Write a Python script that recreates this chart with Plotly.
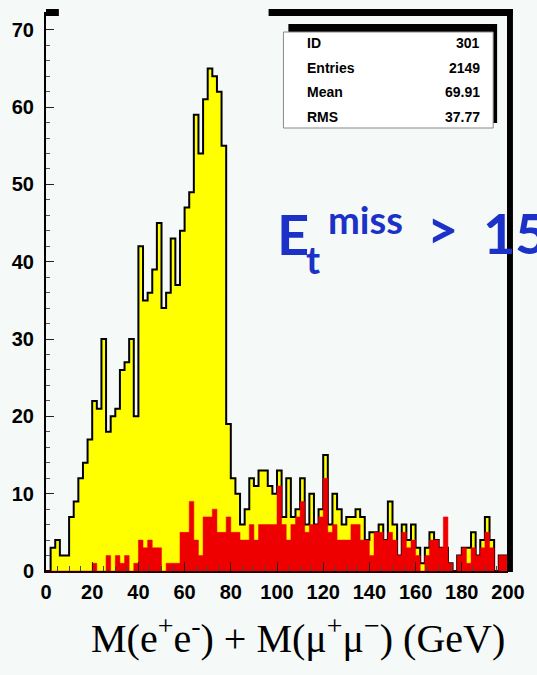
import plotly.graph_objects as go

# 2 GeV bins from 0 to 200 GeV
bin_edges = [2 * i for i in range(101)]

# Summed dilepton mass, all events (yellow histogram)
all_counts = [
    0, 3, 4, 2, 2, 7, 9, 12, 14, 17,
    22, 21, 30, 18, 20, 21, 26, 27, 30, 20,
    42, 35, 36, 39, 45, 34, 36, 43, 37, 44,
    47, 49, 59, 54, 61, 65, 64, 62, 55, 19,
    12, 10, 6, 8, 12, 11, 13, 13, 11, 10,
    13, 7, 12, 7, 8, 12, 6, 10, 6, 8,
    15, 6, 10, 8, 6, 7, 7, 8, 7, 4,
    5, 5, 6, 4, 9, 6, 2, 6, 4, 6,
    3, 1, 3, 5, 4, 3, 3, 1, 0, 2,
    3, 3, 5, 2, 4, 7, 4, 0, 2, 2,
]

# Events passing the missing-Et cut (red histogram)
cut_counts = [
    0, 0, 0, 0, 0, 0, 0, 0, 0, 0,
    1, 0, 0, 2, 0, 2, 1, 2, 0, 1,
    4, 3, 4, 3, 3, 0, 1, 1, 1, 5,
    5, 9, 4, 2, 7, 7, 8, 5, 5, 7,
    5, 5, 4, 4, 6, 4, 6, 6, 6, 6,
    11, 6, 4, 6, 7, 9, 5, 6, 6, 7,
    12, 5, 6, 4, 4, 4, 6, 6, 4, 4,
    2, 5, 5, 4, 5, 4, 2, 5, 3, 4,
    2, 0, 2, 4, 4, 3, 7, 1, 0, 2,
    3, 1, 3, 2, 3, 5, 3, 0, 2, 2,
]

y_ticks = [0, 10, 20, 30, 40, 50, 60, 70]
x_ticks = [0, 20, 40, 60, 80, 100, 120, 140, 160, 180, 200]

stat_labels = ["ID", "Entries", "Mean", "RMS"]
stat_values = ["301", "2149", "69.91", "37.77"]

BG = "#f5f9f7"
YELLOW = "#ffff00"
RED = "#ee0000"
BLUE = "#1c31c7"

W, H = 537, 675
L, R, T, B = 45, 25, 12, 104
PW, PH = W - L - R, H - T - B


def px(x):
    return (x - L) / PW


def py(y):
    return (H - B - y) / PH


def step_y(vals):
    return list(vals) + [vals[-1]]


fig = go.Figure()

fig.add_trace(go.Scatter(
    x=bin_edges, y=step_y(all_counts), mode="lines",
    line=dict(shape="hv", color="black", width=2),
    fill="tozeroy", fillcolor=YELLOW, hoverinfo="skip", showlegend=False,
))
fig.add_trace(go.Scatter(
    x=bin_edges, y=step_y(cut_counts), mode="lines",
    line=dict(shape="hv", color=RED, width=0.5),
    fill="tozeroy", fillcolor=RED, hoverinfo="skip", showlegend=False,
))

tick_font = dict(family="Liberation Sans, Arial, sans-serif", size=20,
                 color="black", weight="bold")

fig.update_xaxes(
    range=[0, 200], tickvals=x_ticks, ticktext=[str(v) for v in x_ticks],
    showline=True, linecolor="#200", linewidth=2, showgrid=False, zeroline=False,
    ticks="inside", ticklen=9, tickwidth=1.2, tickcolor="#222",
    minor=dict(dtick=5, ticks="inside", ticklen=5, tickwidth=1, tickcolor="#444"),
    tickfont=tick_font, ticklabelstandoff=2,
)
fig.update_yaxes(
    range=[0, 72.3], tickvals=y_ticks, ticktext=[str(v) for v in y_ticks],
    showline=True, linecolor="black", linewidth=2, showgrid=False, zeroline=False,
    ticks="inside", ticklen=8, tickwidth=1.2, tickcolor="#222",
    minor=dict(dtick=2, ticks="inside", ticklen=4, tickwidth=1, tickcolor="#555"),
    tickfont=tick_font, ticklabelstandoff=6,
)

shapes = []
# heavy frame pieces along the top and right
shapes.append(dict(type="rect", xref="paper", yref="paper",
                   x0=px(45), x1=px(58), y0=py(16), y1=py(9),
                   fillcolor="black", line=dict(width=0), layer="above"))
shapes.append(dict(type="rect", xref="paper", yref="paper",
                   x0=px(270), x1=px(517), y0=py(16), y1=py(9),
                   fillcolor="black", line=dict(width=0), layer="above"))
shapes.append(dict(type="rect", xref="paper", yref="paper",
                   x0=px(511), x1=px(517), y0=py(572), y1=py(9),
                   fillcolor="black", line=dict(width=0), layer="above"))
# statistics box with its shadow
shapes.append(dict(type="rect", xref="paper", yref="paper",
                   x0=px(290), x1=px(501), y0=py(123), y1=py(24),
                   fillcolor="black", line=dict(width=0), layer="above"))
shapes.append(dict(type="rect", xref="paper", yref="paper",
                   x0=px(285), x1=px(497), y0=py(128), y1=py(32),
                   fillcolor="white", line=dict(color="#888", width=1), layer="above"))

annotations = []
stat_font = dict(family="Liberation Sans, Arial, sans-serif", size=14,
                 color="black", weight="bold")
for i, (lab, val) in enumerate(zip(stat_labels, stat_values)):
    yy = 43 + i * 24.7
    annotations.append(dict(xref="paper", yref="paper", x=px(307), y=py(yy),
                            text=lab, showarrow=False, xanchor="left",
                            yanchor="middle", font=stat_font))
    annotations.append(dict(xref="paper", yref="paper", x=px(486), y=py(yy),
                            text=val, showarrow=False, xanchor="right",
                            yanchor="middle", font=stat_font))

# x-axis title
annotations.append(dict(
    xref="paper", yref="paper", x=px(300), y=py(635),
    text="M(e<sup>+</sup>e<sup>-</sup>) + M(\u03bc<sup>+</sup>\u03bc<sup>\u2212</sup>) (GeV)",
    showarrow=False, xanchor="center", yanchor="middle",
    font=dict(family="Liberation Serif, Times New Roman, serif", size=40, color="black"),
))

# handwritten-style cut label
blue_font = "Lato, Noto Sans, sans-serif"
for txt, xc, yc, size in [
    ("E", 276, 233, 56),
    ("t", 306, 259, 38),
    ("miss", 328, 219, 38),
    (">", 428, 228, 54),
    ("1", 485, 232, 56),
    ("5", 517, 232, 56),
]:
    annotations.append(dict(xref="paper", yref="paper", x=px(xc), y=py(yc),
                            text=txt, showarrow=False, xanchor="left",
                            yanchor="middle",
                            font=dict(family=blue_font, size=size, color=BLUE,
                                      weight="bold")))

fig.update_layout(
    width=W, height=H, margin=dict(l=L, r=R, t=T, b=B),
    paper_bgcolor=BG, plot_bgcolor=BG,
    shapes=shapes, annotations=annotations, showlegend=False,
)

fig.write_html("out.html")
